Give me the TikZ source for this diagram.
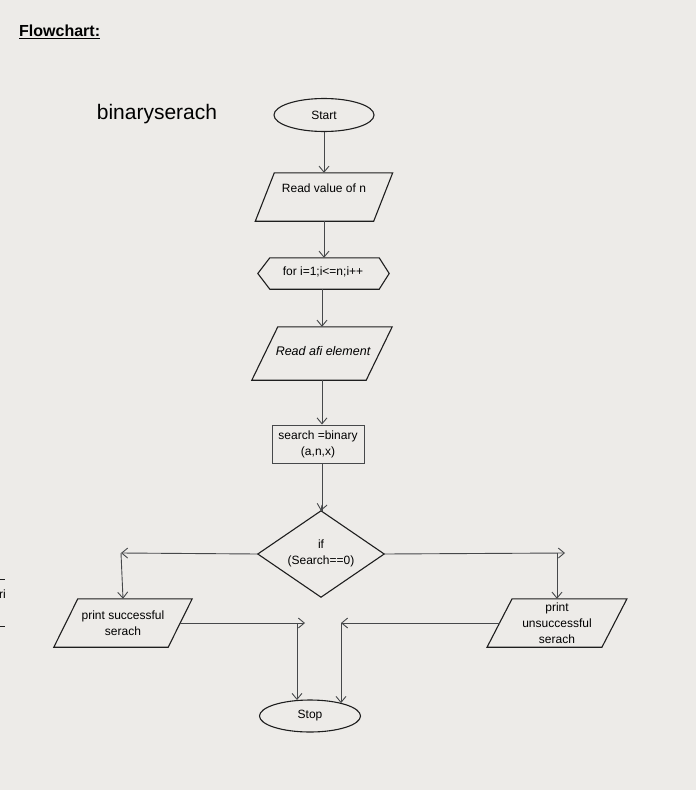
\documentclass[tikz,border=0pt]{standalone}
\usepackage{fontspec}
\setmainfont{Liberation Sans}
\usetikzlibrary{arrows.meta,shapes.geometric,calc}
\definecolor{bg}{RGB}{237,235,232}
\definecolor{ln}{RGB}{70,72,74}
\definecolor{ol}{RGB}{30,30,30}
\begin{document}
\begin{tikzpicture}[x=1pt,y=-1pt,
  line/.style={draw=ln,line width=0.9pt},
  arr/.style={line,-{Straight Barb[length=6pt,width=10pt,line width=0.9pt]}},
  outline/.style={draw=ol,line width=1.1pt},
  box/.style={draw=none,inner sep=0pt},
  txt/.style={font=\fontsize{12}{16}\selectfont,align=center,inner sep=0pt},
  term/.style={ellipse,outline,inner sep=0pt,font=\fontsize{12}{14}\selectfont}]
\fill[bg] (0,0) rectangle (696,790);
\useasboundingbox (0,0) rectangle (696,790);

% title
\node[anchor=west,inner sep=0pt,font=\fontsize{16}{18}\bfseries] (title) at (19,32) {\underline{Flowchart:}};
\node[anchor=center,inner sep=0pt,font=\fontsize{21}{24}\selectfont] (name) at (157,114) {binaryserach};

% left edge fragment
\draw[line,draw=ol] (0,579) -- (5,579);
\draw[line,draw=ol] (0,626) -- (5,626);
\node[txt,anchor=east] (frag) at (6,594) {ri};

% start
\node[term,minimum width=100pt,minimum height=33pt] (start) at (324,115) {Start};

% read value of n
\node[box,minimum width=118pt,minimum height=48pt] (rv) at (324,197) {};
\draw[outline] ([xshift=-9.5pt]rv.south west) -- ([xshift=9.5pt]rv.north west) -- ([xshift=9.5pt]rv.north east) -- ([xshift=-9.5pt]rv.south east) -- cycle;
\node[txt] (rvt) at (324,188) {Read value of n};

% hexagon
\node[box,minimum width=131pt,minimum height=31pt] (hx) at (323.5,273.5) {};
\draw[outline] (hx.west) -- ([xshift=12pt]hx.north west) -- ([xshift=-10pt]hx.north east) -- (hx.east) -- ([xshift=-10pt]hx.south east) -- ([xshift=12pt]hx.south west) -- cycle;
\node[txt] (hxt) at (323,272) {for i=1;i<=n;i++};

% read a[i]
\node[box,minimum width=114pt,minimum height=53pt] (ra) at (322,353.5) {};
\draw[outline] ([xshift=-13pt]ra.south west) -- ([xshift=13pt]ra.north west) -- ([xshift=13pt]ra.north east) -- ([xshift=-13pt]ra.south east) -- cycle;
\node[txt,font=\fontsize{12.5}{16}\itshape] (rat) at (323,351) {Read afi element};

% search box
\node[draw=ln,line width=1pt,minimum width=92pt,minimum height=38pt,inner sep=0pt,txt] (sb) at (318,444) {search =binary\\(a,n,x)};

% diamond
\node[box,minimum width=126pt,minimum height=86pt] (dia) at (321,554) {};
\draw[outline] (dia.west) -- (dia.north) -- (dia.east) -- (dia.south) -- cycle;
\node[txt] (diat) at (321,553) {if\\(Search==0)};

% print successful
\node[box,minimum width=114pt,minimum height=48pt] (ps) at (123,623) {};
\draw[outline] ([xshift=-12pt]ps.south west) -- ([xshift=12pt]ps.north west) -- ([xshift=12pt]ps.north east) -- ([xshift=-12pt]ps.south east) -- cycle;
\node[txt] (pst) at (123,623) {print successful\\serach};

% print unsuccessful
\node[box,minimum width=114.5pt,minimum height=48pt] (pu) at (557,623) {};
\draw[outline] ([xshift=-12.5pt]pu.south west) -- ([xshift=12.5pt]pu.north west) -- ([xshift=12.5pt]pu.north east) -- ([xshift=-12.5pt]pu.south east) -- cycle;
\node[txt] (put) at (557,623) {print\\unsuccessful\\serach};

% stop
\node[term,minimum width=101pt,minimum height=32pt] (stop) at (310,716) {Stop};

% coordinates
\coordinate (L) at (121,553);
\coordinate (R) at (565,553);
\coordinate (Rv) at (557,553);
\coordinate (A1) at (305,623);
\coordinate (V1) at (297,623);
\coordinate (A2) at (341,623);

% connectors
\draw[arr] (start.south) -- (rv.north);
\draw[arr] (rv.south) -- (rv.south |- hx.north);
\draw[arr] (322,289) -- (ra.north);
\draw[arr] (ra.south) -- (ra.south |- sb.north);
\draw[line] (sb.south -| ra.south) -- (ra.south |- dia.north);
\draw[arr] (ra.south |- 500,505) -- (dia.north);
\draw[arr] (dia.west) -- (L);
\draw[arr] (L) -- (ps.north);
\draw[arr] (dia.east) -- (R);
\draw[arr] (Rv) -- (pu.north);
\draw[arr] (ps.east) -- (A1);
\draw[arr] (V1) -- (V1 |- stop.130);
\draw[arr] (pu.west) -- (A2);
\draw[arr] (A2) -- (A2 |- stop.22);
\end{tikzpicture}
\end{document}
